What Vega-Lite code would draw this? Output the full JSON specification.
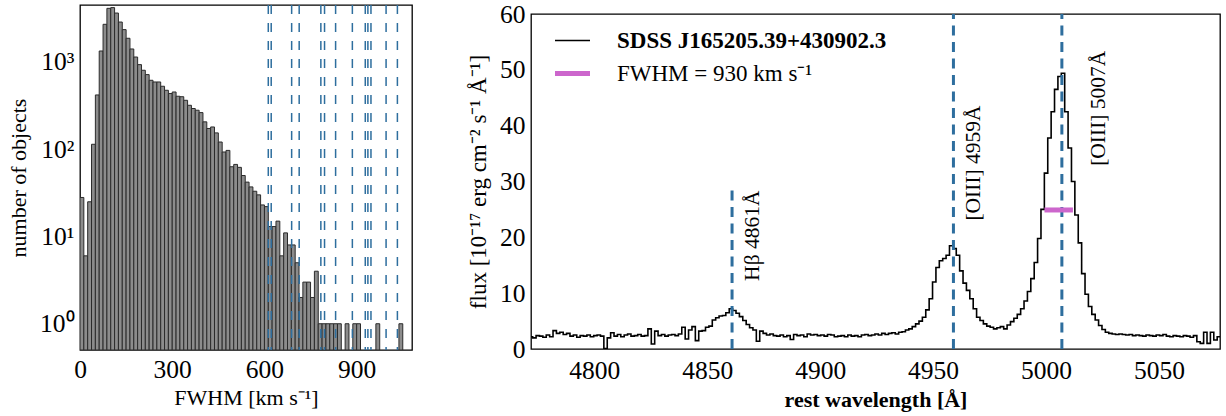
{
 "$schema": "https://vega.github.io/schema/vega-lite/v6.json",
 "background": "white",
 "padding": {"left": 6, "top": 1, "right": 0, "bottom": 0},
 "config": {
  "font": "Liberation Serif",
  "view": {"stroke": "#000", "strokeWidth": 1.3},
  "axis": {"grid": false, "domain": false, "labelFont": "Liberation Serif", "labelFontSize": 25.5, "labelColor": "#000", "titleFont": "Liberation Serif", "titleFontSize": 22, "titleFontWeight": "normal", "titleColor": "#000", "tickColor": "#000", "tickWidth": 1, "tickSize": 0, "labelPadding": 7, "titlePadding": 8, "labelFlush": false, "labelOverlap": false},
  "legend": {"labelFont": "Liberation Serif", "labelColor": "#000"}
 },
 "datasets": {
  "hist": [
   {"lo": 0, "hi": 12.5, "n": 28}, {"lo": 12.5, "hi": 25, "n": 6}, {"lo": 25, "hi": 37.5, "n": 25}, {"lo": 37.5, "hi": 50, "n": 114},
   {"lo": 50, "hi": 62.5, "n": 419}, {"lo": 62.5, "hi": 75, "n": 1337}, {"lo": 75, "hi": 87.5, "n": 2704}, {"lo": 87.5, "hi": 100, "n": 4120},
   {"lo": 100, "hi": 112.5, "n": 4200}, {"lo": 112.5, "hi": 125, "n": 3640}, {"lo": 125, "hi": 137.5, "n": 2870}, {"lo": 137.5, "hi": 150, "n": 2350},
   {"lo": 150, "hi": 162.5, "n": 1870}, {"lo": 162.5, "hi": 175, "n": 1410}, {"lo": 175, "hi": 187.5, "n": 1140}, {"lo": 187.5, "hi": 200, "n": 933},
   {"lo": 200, "hi": 212.5, "n": 804}, {"lo": 212.5, "hi": 225, "n": 717}, {"lo": 225, "hi": 237.5, "n": 617}, {"lo": 237.5, "hi": 250, "n": 590},
   {"lo": 250, "hi": 262.5, "n": 590}, {"lo": 262.5, "hi": 275, "n": 527}, {"lo": 275, "hi": 287.5, "n": 474}, {"lo": 287.5, "hi": 300, "n": 435},
   {"lo": 300, "hi": 312.5, "n": 453}, {"lo": 312.5, "hi": 325, "n": 405}, {"lo": 325, "hi": 337.5, "n": 400}, {"lo": 337.5, "hi": 350, "n": 364},
   {"lo": 350, "hi": 362.5, "n": 319}, {"lo": 362.5, "hi": 375, "n": 293}, {"lo": 375, "hi": 387.5, "n": 280}, {"lo": 387.5, "hi": 400, "n": 263},
   {"lo": 400, "hi": 412.5, "n": 206}, {"lo": 412.5, "hi": 425, "n": 173}, {"lo": 425, "hi": 437.5, "n": 180}, {"lo": 437.5, "hi": 450, "n": 154},
   {"lo": 450, "hi": 462.5, "n": 121}, {"lo": 462.5, "hi": 475, "n": 93}, {"lo": 475, "hi": 487.5, "n": 97}, {"lo": 487.5, "hi": 500, "n": 63},
   {"lo": 500, "hi": 512.5, "n": 67}, {"lo": 512.5, "hi": 525, "n": 62}, {"lo": 525, "hi": 537.5, "n": 50}, {"lo": 537.5, "hi": 550, "n": 42},
   {"lo": 550, "hi": 562.5, "n": 37}, {"lo": 562.5, "hi": 575, "n": 33}, {"lo": 575, "hi": 587.5, "n": 30}, {"lo": 587.5, "hi": 600, "n": 23},
   {"lo": 600, "hi": 612.5, "n": 22}, {"lo": 612.5, "hi": 625, "n": 13}, {"lo": 625, "hi": 637.5, "n": 13}, {"lo": 637.5, "hi": 650, "n": 15},
   {"lo": 650, "hi": 662.5, "n": 6}, {"lo": 662.5, "hi": 675, "n": 11}, {"lo": 675, "hi": 687.5, "n": 8}, {"lo": 687.5, "hi": 700, "n": 8},
   {"lo": 700, "hi": 712.5, "n": 5}, {"lo": 712.5, "hi": 725, "n": 2}, {"lo": 725, "hi": 737.5, "n": 3}, {"lo": 737.5, "hi": 750, "n": 3},
   {"lo": 750, "hi": 762.5, "n": 2}, {"lo": 762.5, "hi": 775, "n": 4}, {"lo": 775, "hi": 787.5, "n": 1}, {"lo": 787.5, "hi": 800, "n": 1},
   {"lo": 800, "hi": 812.5, "n": 1}, {"lo": 812.5, "hi": 825, "n": 1}, {"lo": 825, "hi": 837.5, "n": 1}, {"lo": 837.5, "hi": 850, "n": 1},
   {"lo": 862.5, "hi": 875, "n": 1}, {"lo": 887.5, "hi": 900, "n": 1}, {"lo": 900, "hi": 912.5, "n": 1},
   {"lo": 962.5, "hi": 975, "n": 1}, {"lo": 1037.5, "hi": 1050, "n": 1}
  ],
  "vlines": [
   {"v": 612.5}, {"v": 622}, {"v": 688.5}, {"v": 713}, {"v": 783.5}, {"v": 795.5}, {"v": 831.5},
   {"v": 886}, {"v": 928}, {"v": 936.5}, {"v": 946.5}, {"v": 995.7}, {"v": 1032.5}
  ],
  "spec": [
   {"wl": 4772.0, "flux": 2.2}, {"wl": 4773.5, "flux": 2.0}, {"wl": 4775.0, "flux": 2.4}, {"wl": 4776.5, "flux": 2.3},
   {"wl": 4778.0, "flux": 2.1}, {"wl": 4779.5, "flux": 2.5}, {"wl": 4781.0, "flux": 2.2}, {"wl": 4782.5, "flux": 3.3},
   {"wl": 4784.0, "flux": 2.8}, {"wl": 4785.5, "flux": 3.0}, {"wl": 4787.0, "flux": 2.6}, {"wl": 4788.5, "flux": 2.8},
   {"wl": 4790.0, "flux": 2.3}, {"wl": 4791.5, "flux": 2.5}, {"wl": 4793.0, "flux": 2.1}, {"wl": 4794.5, "flux": 2.4},
   {"wl": 4796.0, "flux": 2.3}, {"wl": 4797.5, "flux": 2.5}, {"wl": 4799.0, "flux": 2.2}, {"wl": 4800.5, "flux": 2.4},
   {"wl": 4802.0, "flux": 2.5}, {"wl": 4803.5, "flux": 2.3}, {"wl": 4805.0, "flux": 0.1}, {"wl": 4806.5, "flux": 2.0},
   {"wl": 4808.0, "flux": 2.9}, {"wl": 4809.5, "flux": 2.3}, {"wl": 4811.0, "flux": 2.6}, {"wl": 4812.5, "flux": 2.2},
   {"wl": 4814.0, "flux": 2.5}, {"wl": 4815.5, "flux": 2.7}, {"wl": 4817.0, "flux": 2.3}, {"wl": 4818.5, "flux": 2.4},
   {"wl": 4820.0, "flux": 2.6}, {"wl": 4821.5, "flux": 2.3}, {"wl": 4823.0, "flux": 2.4}, {"wl": 4824.5, "flux": 3.6},
   {"wl": 4826.0, "flux": 0.9}, {"wl": 4827.5, "flux": 3.2}, {"wl": 4829.0, "flux": 2.4}, {"wl": 4830.5, "flux": 2.6},
   {"wl": 4832.0, "flux": 2.3}, {"wl": 4833.5, "flux": 2.5}, {"wl": 4835.0, "flux": 2.6}, {"wl": 4836.5, "flux": 2.4},
   {"wl": 4838.0, "flux": 2.7}, {"wl": 4839.5, "flux": 3.9}, {"wl": 4841.0, "flux": 1.8}, {"wl": 4842.5, "flux": 3.4},
   {"wl": 4844.0, "flux": 4.0}, {"wl": 4845.5, "flux": 1.5}, {"wl": 4847.0, "flux": 3.2}, {"wl": 4848.5, "flux": 3.3},
   {"wl": 4850.0, "flux": 3.9}, {"wl": 4851.5, "flux": 4.1}, {"wl": 4853.0, "flux": 5.2}, {"wl": 4854.5, "flux": 5.6},
   {"wl": 4856.0, "flux": 5.9}, {"wl": 4857.5, "flux": 6.0}, {"wl": 4859.0, "flux": 6.5}, {"wl": 4860.5, "flux": 7.2},
   {"wl": 4862.0, "flux": 6.9}, {"wl": 4863.5, "flux": 6.4}, {"wl": 4865.0, "flux": 5.8}, {"wl": 4866.5, "flux": 5.1},
   {"wl": 4868.0, "flux": 4.4}, {"wl": 4869.5, "flux": 3.8}, {"wl": 4871.0, "flux": 3.4}, {"wl": 4872.5, "flux": 1.4},
   {"wl": 4874.0, "flux": 3.2}, {"wl": 4875.5, "flux": 2.8}, {"wl": 4877.0, "flux": 2.5}, {"wl": 4878.5, "flux": 2.7},
   {"wl": 4880.0, "flux": 2.4}, {"wl": 4881.5, "flux": 2.3}, {"wl": 4883.0, "flux": 2.5}, {"wl": 4884.5, "flux": 2.2},
   {"wl": 4886.0, "flux": 2.4}, {"wl": 4887.5, "flux": 1.7}, {"wl": 4889.0, "flux": 2.6}, {"wl": 4890.5, "flux": 2.4},
   {"wl": 4892.0, "flux": 2.5}, {"wl": 4893.5, "flux": 2.2}, {"wl": 4895.0, "flux": 2.7}, {"wl": 4896.5, "flux": 2.5},
   {"wl": 4898.0, "flux": 2.6}, {"wl": 4899.5, "flux": 2.4}, {"wl": 4901.0, "flux": 2.5}, {"wl": 4902.5, "flux": 2.3},
   {"wl": 4904.0, "flux": 2.6}, {"wl": 4905.5, "flux": 2.5}, {"wl": 4907.0, "flux": 2.2}, {"wl": 4908.5, "flux": 2.3},
   {"wl": 4910.0, "flux": 2.4}, {"wl": 4911.5, "flux": 2.2}, {"wl": 4913.0, "flux": 2.5}, {"wl": 4914.5, "flux": 2.3},
   {"wl": 4916.0, "flux": 2.4}, {"wl": 4917.5, "flux": 2.2}, {"wl": 4919.0, "flux": 2.5}, {"wl": 4920.5, "flux": 2.6},
   {"wl": 4922.0, "flux": 2.4}, {"wl": 4923.5, "flux": 2.5}, {"wl": 4925.0, "flux": 2.7}, {"wl": 4926.5, "flux": 2.5},
   {"wl": 4928.0, "flux": 2.8}, {"wl": 4929.5, "flux": 2.6}, {"wl": 4931.0, "flux": 2.8}, {"wl": 4932.5, "flux": 2.9},
   {"wl": 4934.0, "flux": 2.7}, {"wl": 4935.5, "flux": 3.0}, {"wl": 4937.0, "flux": 3.1}, {"wl": 4938.5, "flux": 3.4},
   {"wl": 4940.0, "flux": 3.6}, {"wl": 4941.5, "flux": 4.0}, {"wl": 4943.0, "flux": 4.5}, {"wl": 4944.5, "flux": 5.0},
   {"wl": 4946.0, "flux": 5.7}, {"wl": 4947.5, "flux": 7.0}, {"wl": 4949.0, "flux": 9.0}, {"wl": 4950.5, "flux": 12.0},
   {"wl": 4952.0, "flux": 14.6}, {"wl": 4953.5, "flux": 15.8}, {"wl": 4955.0, "flux": 16.2}, {"wl": 4956.5, "flux": 16.8},
   {"wl": 4958.0, "flux": 18.5}, {"wl": 4959.5, "flux": 18.0}, {"wl": 4961.0, "flux": 16.8}, {"wl": 4962.5, "flux": 14.0},
   {"wl": 4964.0, "flux": 11.8}, {"wl": 4965.5, "flux": 10.5}, {"wl": 4967.0, "flux": 9.0}, {"wl": 4968.5, "flux": 7.2},
   {"wl": 4970.0, "flux": 5.7}, {"wl": 4971.5, "flux": 5.1}, {"wl": 4973.0, "flux": 4.5}, {"wl": 4974.5, "flux": 4.1},
   {"wl": 4976.0, "flux": 3.9}, {"wl": 4977.5, "flux": 3.6}, {"wl": 4979.0, "flux": 3.8}, {"wl": 4980.5, "flux": 4.0},
   {"wl": 4982.0, "flux": 3.6}, {"wl": 4983.5, "flux": 4.3}, {"wl": 4985.0, "flux": 4.9}, {"wl": 4986.5, "flux": 5.5},
   {"wl": 4988.0, "flux": 6.2}, {"wl": 4989.5, "flux": 7.2}, {"wl": 4991.0, "flux": 8.6}, {"wl": 4992.5, "flux": 10.3},
   {"wl": 4994.0, "flux": 12.6}, {"wl": 4995.5, "flux": 15.5}, {"wl": 4997.0, "flux": 19.8}, {"wl": 4998.5, "flux": 25.0},
   {"wl": 5000.0, "flux": 31.5}, {"wl": 5001.5, "flux": 37.8}, {"wl": 5003.0, "flux": 42.5}, {"wl": 5004.5, "flux": 46.5},
   {"wl": 5006.0, "flux": 48.8}, {"wl": 5007.5, "flux": 49.4}, {"wl": 5009.0, "flux": 42.5}, {"wl": 5010.5, "flux": 36.0},
   {"wl": 5012.0, "flux": 30.0}, {"wl": 5013.5, "flux": 24.0}, {"wl": 5015.0, "flux": 19.0}, {"wl": 5016.5, "flux": 13.5},
   {"wl": 5018.0, "flux": 9.8}, {"wl": 5019.5, "flux": 7.6}, {"wl": 5021.0, "flux": 6.2}, {"wl": 5022.5, "flux": 5.2},
   {"wl": 5024.0, "flux": 4.2}, {"wl": 5025.5, "flux": 3.5}, {"wl": 5027.0, "flux": 3.0}, {"wl": 5028.5, "flux": 2.8},
   {"wl": 5030.0, "flux": 2.7}, {"wl": 5031.5, "flux": 2.6}, {"wl": 5033.0, "flux": 2.7}, {"wl": 5034.5, "flux": 2.6},
   {"wl": 5036.0, "flux": 2.5}, {"wl": 5037.5, "flux": 2.6}, {"wl": 5039.0, "flux": 2.4}, {"wl": 5040.5, "flux": 2.5},
   {"wl": 5042.0, "flux": 2.4}, {"wl": 5043.5, "flux": 2.3}, {"wl": 5045.0, "flux": 2.5}, {"wl": 5046.5, "flux": 2.4},
   {"wl": 5048.0, "flux": 2.3}, {"wl": 5049.5, "flux": 2.5}, {"wl": 5051.0, "flux": 2.4}, {"wl": 5052.5, "flux": 2.6},
   {"wl": 5054.0, "flux": 2.3}, {"wl": 5055.5, "flux": 2.2}, {"wl": 5057.0, "flux": 2.4}, {"wl": 5058.5, "flux": 2.3},
   {"wl": 5060.0, "flux": 2.2}, {"wl": 5061.5, "flux": 2.4}, {"wl": 5063.0, "flux": 2.3}, {"wl": 5064.5, "flux": 2.1},
   {"wl": 5066.0, "flux": 2.4}, {"wl": 5067.5, "flux": 1.3}, {"wl": 5069.0, "flux": 1.0}, {"wl": 5070.5, "flux": 3.0},
   {"wl": 5072.0, "flux": 1.0}, {"wl": 5073.5, "flux": 3.0}, {"wl": 5075.0, "flux": 1.6}, {"wl": 5076.5, "flux": 2.2},
   {"wl": 5078.0, "flux": 2.2}
  ],
  "lines": [
   {"wl": 4861, "y0": 0, "y1": 29.5}, {"wl": 4959, "y0": 0, "y1": 60}, {"wl": 5007, "y0": 0, "y1": 60}
  ],
  "fwhm": [{"x0": 4999.3, "x1": 5011.9, "y": 24.9}],
  "labels": [
   {"label": "Hβ 4861Å", "tx": 4872.9, "ty": 12.2},
   {"label": "[OIII] 4959Å", "tx": 4970.9, "ty": 23.0},
   {"label": "[OIII] 5007Å", "tx": 5026.0, "ty": 32.8}
  ],
  "blank": [{"k": 0}]
 },
 "spacing": 52,
 "resolve": {"scale": {"color": "independent"}, "legend": {"color": "independent"}},
 "hconcat": [
  {
   "width": 332, "height": 345,
   "layer": [
    {
     "data": {"name": "hist"},
     "mark": {"type": "bar", "fill": "#8c8c8c", "stroke": "#2b2b2b", "strokeWidth": 1, "clip": true},
     "encoding": {
      "x": {"field": "lo", "type": "quantitative", "scale": {"domain": [0, 1080], "nice": false, "zero": false},
       "axis": {"orient": "bottom", "values": [0, 300, 600, 900], "title": "FWHM [km s⁻¹]", "labelFont": "Liberation Serif", "titleFont": "Liberation Serif", "labelPadding": 7, "titlePadding": 5,
        "encode": {"ticks": {"update": {"y2": {"value": -8}}}}}},
      "x2": {"field": "hi"},
      "y": {"field": "n", "type": "quantitative", "scale": {"type": "log", "domain": [0.5, 4500], "nice": false},
       "axis": {"orient": "left", "title": "number of objects", "labelFont": "Liberation Serif", "titleFont": "Liberation Serif", "labelPadding": 6, "titlePadding": 9,
        "values": [1, 10, 100, 1000],
        "labelExpr": "datum.value == 1 ? '10⁰' : datum.value == 10 ? '10¹' : datum.value == 100 ? '10²' : '10³'",
        "encode": {"ticks": {"update": {"x2": {"value": 9}}}}}},
      "y2": {"datum": 0.5}
     }
    },
    {
     "data": {"name": "hist"},
     "mark": {"type": "bar", "opacity": 0},
     "encoding": {
      "x": {"field": "lo", "type": "quantitative", "scale": {"domain": [0, 1080], "nice": false, "zero": false},
       "axis": {"orient": "top", "values": [0, 300, 600, 900], "labels": false, "title": null,
        "encode": {"ticks": {"update": {"y2": {"value": 8}}}}}},
      "x2": {"field": "hi"},
      "y": {"field": "n", "type": "quantitative", "scale": {"type": "log", "domain": [0.5, 4500], "nice": false},
       "axis": {"orient": "right", "labels": false, "title": null, "values": [1, 10, 100, 1000],
        "encode": {"ticks": {"update": {"x2": {"value": -9}}}}}},
      "y2": {"datum": 0.5}
     }
    },
    {
     "data": {"name": "hist"},
     "mark": {"type": "bar", "opacity": 0},
     "encoding": {
      "x": {"field": "lo", "type": "quantitative", "scale": {"domain": [0, 1080], "nice": false, "zero": false}, "axis": null},
      "x2": {"field": "hi"},
      "y": {"field": "n", "type": "quantitative", "scale": {"type": "log", "domain": [0.5, 4500], "nice": false},
       "axis": {"orient": "left", "labels": false, "title": null,
        "values": [0.6, 0.7, 0.8, 0.9, 2, 3, 4, 5, 6, 7, 8, 9, 20, 30, 40, 50, 60, 70, 80, 90, 200, 300, 400, 500, 600, 700, 800, 900, 2000, 3000, 4000],
        "encode": {"ticks": {"update": {"x2": {"value": 5}}}}}},
      "y2": {"datum": 0.5}
     }
    },
    {
     "data": {"name": "hist"},
     "mark": {"type": "bar", "opacity": 0},
     "encoding": {
      "x": {"field": "lo", "type": "quantitative", "scale": {"domain": [0, 1080], "nice": false, "zero": false}, "axis": null},
      "x2": {"field": "hi"},
      "y": {"field": "n", "type": "quantitative", "scale": {"type": "log", "domain": [0.5, 4500], "nice": false},
       "axis": {"orient": "right", "labels": false, "title": null,
        "values": [0.6, 0.7, 0.8, 0.9, 2, 3, 4, 5, 6, 7, 8, 9, 20, 30, 40, 50, 60, 70, 80, 90, 200, 300, 400, 500, 600, 700, 800, 900, 2000, 3000, 4000],
        "encode": {"ticks": {"update": {"x2": {"value": -5}}}}}},
      "y2": {"datum": 0.5}
     }
    },
    {
     "data": {"name": "vlines"},
     "mark": {"type": "rule", "color": "#2e6e9e", "strokeWidth": 1.5, "strokeDash": [9, 9]},
     "encoding": {
      "x": {"field": "v", "type": "quantitative", "scale": {"domain": [0, 1080], "nice": false, "zero": false}, "axis": null}
     }
    }
   ],
   "resolve": {"axis": {"x": "independent", "y": "independent"}}
  },
  {
   "spacing": 0,
   "bounds": "flush",
   "resolve": {"scale": {"color": "independent"}, "legend": {"color": "independent"}},
   "vconcat": [
    {
     "width": 689, "height": 9,
     "view": {"stroke": null},
     "data": {"name": "blank"},
     "mark": {"type": "point", "opacity": 0},
     "encoding": {}
    },
    {
     "width": 689, "height": 335,
     "layer": [
      {
       "data": {"name": "spec"},
       "mark": {"type": "line", "interpolate": "step", "strokeWidth": 1.6, "clip": true},
       "encoding": {
        "x": {"field": "wl", "type": "quantitative", "scale": {"domain": [4772, 5077], "nice": false, "zero": false},
         "axis": {"orient": "bottom", "values": [4800, 4850, 4900, 4950, 5000, 5050], "format": "d", "title": "rest wavelength [Å]", "titleFontWeight": "bold", "labelFont": "Liberation Serif", "titleFont": "Liberation Serif", "labelPadding": 9, "titlePadding": 6,
          "encode": {"ticks": {"update": {"y2": {"value": -8}}}}}},
        "y": {"field": "flux", "type": "quantitative", "scale": {"domain": [0, 60], "nice": false},
         "axis": {"orient": "left", "values": [0, 10, 20, 30, 40, 50, 60], "title": "flux [10⁻¹⁷ erg cm⁻² s⁻¹ Å⁻¹]", "titleFontSize": 23, "labelFont": "Liberation Serif", "titleFont": "Liberation Serif", "labelPadding": 6, "titlePadding": 9,
          "encode": {"ticks": {"update": {"x2": {"value": 8}}}}}},
        "color": {"datum": "SDSS J165205.39+430902.3", "type": "nominal",
         "scale": {"domain": ["SDSS J165205.39+430902.3", "FWHM = 930 km s⁻¹"], "range": ["#000000", "#cc66cc"]},
         "legend": {"orient": "none", "legendX": 30, "legendY": 15, "title": null, "padding": 0, "symbolType": "stroke", "symbolSize": 1225, "labelFontSize": 23, "labelOffset": 33, "labelLimit": 500, "rowPadding": 9,
          "encode": {
           "symbols": {"update": {"strokeWidth": {"signal": "datum.value == 'SDSS J165205.39+430902.3' ? 1.5 : 5"}}},
           "labels": {"update": {"fontWeight": {"signal": "datum.value == 'SDSS J165205.39+430902.3' ? 'bold' : 'normal'"}}}
          }}}
       }
      },
      {
       "data": {"name": "lines"},
       "mark": {"type": "rule", "color": "#2e6e9e", "strokeWidth": 3, "strokeDash": [10, 6.5]},
       "encoding": {
        "x": {"field": "wl", "type": "quantitative", "scale": {"domain": [4772, 5077], "nice": false, "zero": false},
         "axis": {"orient": "top", "values": [4800, 4850, 4900, 4950, 5000, 5050], "labels": false, "title": null,
          "encode": {"ticks": {"update": {"y2": {"value": 8}}}}}},
        "y": {"field": "y0", "type": "quantitative", "scale": {"domain": [0, 60], "nice": false},
         "axis": {"orient": "right", "values": [0, 10, 20, 30, 40, 50, 60], "labels": false, "title": null,
          "encode": {"ticks": {"update": {"x2": {"value": -8}}}}}},
        "y2": {"field": "y1"}
       }
      },
      {
       "data": {"name": "fwhm"},
       "mark": {"type": "rule", "strokeWidth": 5},
       "encoding": {
        "x": {"field": "x0", "type": "quantitative", "axis": null},
        "x2": {"field": "x1"},
        "y": {"field": "y", "type": "quantitative", "axis": null},
        "color": {"datum": "FWHM = 930 km s⁻¹", "type": "nominal"}
       }
      },
      {
       "data": {"name": "labels"},
       "mark": {"type": "text", "angle": 270, "align": "left", "baseline": "alphabetic", "fontSize": 21.5, "color": "#000"},
       "encoding": {
        "x": {"field": "tx", "type": "quantitative", "axis": null},
        "y": {"field": "ty", "type": "quantitative", "axis": null},
        "text": {"field": "label"}
       }
      }
     ],
     "resolve": {"axis": {"x": "independent", "y": "independent"}}
    }
   ]
  }
 ]
}
